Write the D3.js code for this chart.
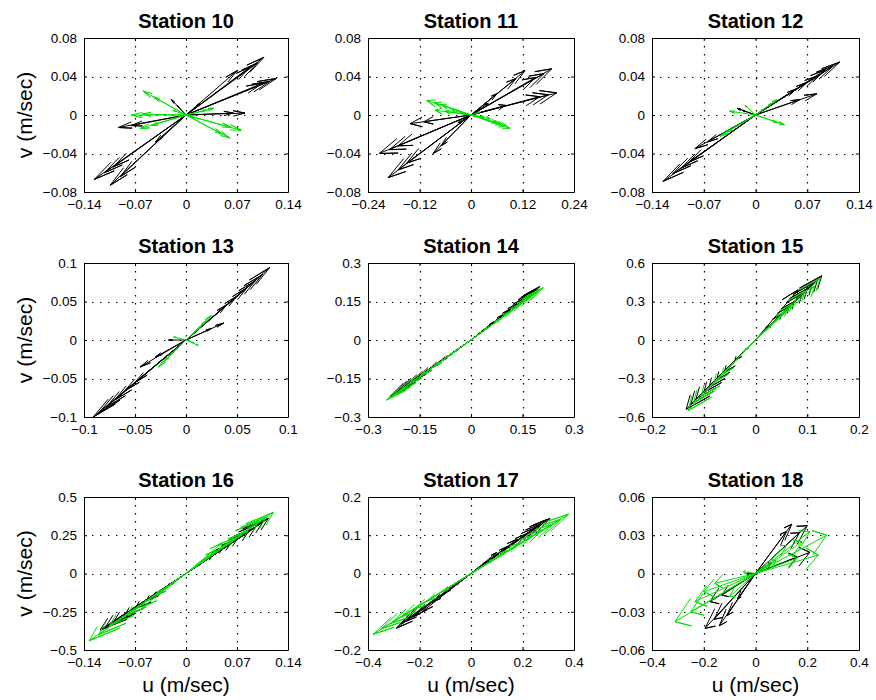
<!DOCTYPE html>
<html><head><meta charset="utf-8">
<script src="https://cdn.jsdelivr.net/npm/d3@7"></script>
<style>
body{margin:0;background:#fff}
svg{display:block}
text{font-family:"Liberation Sans",Arial,Helvetica,sans-serif}
</style>
</head><body>
<svg id="c" width="876" height="700"></svg>
<script>
// ---------- labels ----------
const stationNames = ["Station 10","Station 11","Station 12","Station 13","Station 14","Station 15","Station 16","Station 17","Station 18"];
const xLabel = "u (m/sec)";
const yLabel = "v (m/sec)";

// ---------- tick values (per station) ----------
const xTicks10 = [-0.14,-0.07,0,0.07,0.14], yTicks10 = [-0.08,-0.04,0,0.04,0.08];
const xTicks11 = [-0.24,-0.12,0,0.12,0.24], yTicks11 = [-0.08,-0.04,0,0.04,0.08];
const xTicks12 = [-0.14,-0.07,0,0.07,0.14], yTicks12 = [-0.08,-0.04,0,0.04,0.08];
const xTicks13 = [-0.1,-0.05,0,0.05,0.1],   yTicks13 = [-0.1,-0.05,0,0.05,0.1];
const xTicks14 = [-0.3,-0.15,0,0.15,0.3],   yTicks14 = [-0.3,-0.15,0,0.15,0.3];
const xTicks15 = [-0.2,-0.1,0,0.1,0.2],     yTicks15 = [-0.6,-0.3,0,0.3,0.6];
const xTicks16 = [-0.14,-0.07,0,0.07,0.14], yTicks16 = [-0.5,-0.25,0,0.25,0.5];
const xTicks17 = [-0.4,-0.2,0,0.2,0.4],     yTicks17 = [-0.2,-0.1,0,0.1,0.2];
const xTicks18 = [-0.4,-0.2,0,0.2,0.4],     yTicks18 = [-0.06,-0.03,0,0.03,0.06];

// ---------- current vectors [u, v] (m/sec) ----------
const st10Black = [[0.107,0.060],[0.098,0.054],[0.088,0.050],[0.124,0.038],[0.115,0.035],[0.105,0.033],
  [0.070,0.046],[0.019,0.012],[0.081,0.002],[0.065,0.002],[-0.093,-0.013],[-0.075,-0.011],
  [-0.126,-0.067],[-0.112,-0.060],[-0.100,-0.054],[-0.104,-0.073],[-0.090,-0.064],[-0.042,-0.028],
  [-0.020,0.016],[-0.012,0.010]];
const st10Green = [[-0.059,0.025],[-0.045,0.019],[-0.075,0.000],[-0.060,0.001],[-0.063,-0.014],[-0.048,-0.011],
  [0.060,-0.024],[0.050,-0.020],[0.076,-0.016],[0.062,-0.013],[0.038,0.007],[0.028,0.005],[-0.018,0.005],[0.012,-0.003]];

const st11Black = [[0.126,0.046],[0.105,0.038],[0.060,0.022],[0.188,0.048],[0.170,0.043],[0.150,0.039],
  [0.200,0.023],[0.180,0.021],[0.160,0.019],[0.080,0.010],[-0.142,-0.009],[-0.110,-0.007],
  [-0.214,-0.040],[-0.190,-0.036],[-0.170,-0.032],[-0.193,-0.065],[-0.170,-0.057],[-0.150,-0.050],
  [-0.088,-0.040],[-0.070,-0.032],[0.040,0.012],[-0.030,-0.008]];
const st11Green = [[-0.103,0.015],[-0.085,0.013],[-0.070,0.011],[-0.084,0.005],[-0.060,0.004],[-0.045,0.005],
  [0.091,-0.014],[0.080,-0.012],[0.070,-0.010],[0.060,-0.008],[0.045,-0.004],[0.030,-0.002],[0.020,0.003],[-0.025,0.002]];

const st12Black = [[0.114,0.055],[0.105,0.051],[0.095,0.047],[0.085,0.041],[0.070,0.034],[0.055,0.027],
  [0.083,0.022],[0.060,0.016],[-0.125,-0.069],[-0.112,-0.061],[-0.100,-0.055],[-0.090,-0.049],
  [-0.082,-0.035],[-0.065,-0.028],[-0.025,0.007],[-0.018,0.005]];
const st12Green = [[-0.035,0.004],[0.039,-0.010],[0.030,-0.008],[-0.014,0.010],[-0.048,-0.022],[-0.040,-0.018],
  [0.029,0.016],[0.022,0.012],[0.010,0.006]];

const st13Black = [[0.082,0.094],[0.075,0.085],[0.068,0.077],[0.060,0.068],[0.050,0.057],[0.040,0.046],
  [0.037,0.022],[0.025,0.015],[-0.091,-0.100],[-0.085,-0.094],[-0.078,-0.087],[-0.070,-0.078],
  [-0.060,-0.066],[-0.050,-0.055],[-0.045,-0.035],[-0.030,-0.022],[-0.017,0.000]];
const st13Green = [[0.025,0.032],[0.020,0.025],[0.015,0.018],[-0.027,-0.035],[-0.022,-0.028],[-0.016,-0.020],
  [-0.012,0.004],[0.012,-0.007],[0.008,-0.004]];

const st14Black = [[0.200,0.208],[0.190,0.198],[0.180,0.188],[0.160,0.167],[0.140,0.146],[0.120,0.125],
  [0.100,0.104],[0.070,0.073],[0.040,0.042],[-0.236,-0.220],[-0.225,-0.210],[-0.210,-0.196],
  [-0.190,-0.178],[-0.170,-0.159],[-0.150,-0.140],[-0.120,-0.112],[-0.090,-0.084],[-0.050,-0.047]];
const st14Green = [[0.210,0.204],[0.195,0.189],[0.175,0.170],[0.150,0.146],[0.120,0.116],[0.090,0.087],
  [0.050,0.049],[-0.246,-0.234],[-0.230,-0.219],[-0.210,-0.200],[-0.185,-0.176],[-0.150,-0.143],
  [-0.110,-0.105],[-0.070,-0.067]];

const st15Black = [[0.128,0.50],[0.120,0.47],[0.110,0.44],[0.100,0.40],[0.090,0.36],[0.082,0.39],
  [0.075,0.30],[0.065,0.26],[0.050,0.20],[0.030,0.12],[-0.134,-0.54],[-0.125,-0.50],[-0.115,-0.46],
  [-0.100,-0.41],[-0.090,-0.37],[-0.075,-0.31],[-0.060,-0.25],[-0.040,-0.16]];
const st15Green = [[0.125,0.48],[0.115,0.42],[0.095,0.38],[0.070,0.28],[0.060,0.23],[-0.130,-0.55],
  [-0.120,-0.49],[-0.105,-0.44],[-0.080,-0.33],[-0.065,-0.27],[-0.020,-0.08]];

const st16Black = [[0.113,0.36],[0.105,0.335],[0.095,0.30],[0.085,0.27],[0.070,0.225],[0.060,0.19],
  [0.050,0.165],[0.035,0.11],[0.020,0.065],[-0.118,-0.37],[-0.110,-0.345],[-0.100,-0.32],
  [-0.085,-0.28],[-0.070,-0.23],[-0.055,-0.18],[-0.045,-0.15],[-0.025,-0.08]];
const st16Green = [[0.120,0.40],[0.110,0.37],[0.100,0.345],[0.085,0.28],[0.065,0.23],[0.050,0.20],
  [0.040,0.15],[-0.133,-0.44],[-0.120,-0.40],[-0.105,-0.34],[-0.080,-0.27],[-0.060,-0.22],[-0.040,-0.14]];

const st17Black = [[0.307,0.144],[0.290,0.140],[0.270,0.130],[0.250,0.120],[0.220,0.105],[0.180,0.090],
  [0.140,0.070],[0.100,0.055],[0.060,0.030],[-0.290,-0.143],[-0.270,-0.130],[-0.250,-0.120],
  [-0.220,-0.110],[-0.190,-0.100],[-0.150,-0.075],[-0.100,-0.050],[-0.060,-0.030]];
const st17Green = [[0.380,0.155],[0.350,0.142],[0.320,0.130],[0.280,0.115],[0.240,0.100],[0.190,0.080],
  [0.140,0.060],[0.090,0.038],[-0.380,-0.159],[-0.350,-0.145],[-0.310,-0.130],[-0.270,-0.113],
  [-0.220,-0.093],[-0.170,-0.072],[-0.110,-0.047]];

const st18Black = [[0.140,0.0386],[0.120,0.033],[0.200,0.0375],[0.170,0.032],[0.210,0.0166],[0.160,0.013],
  [0.060,0.008],[-0.195,-0.043],[-0.160,-0.036],[-0.140,-0.041],[-0.110,-0.033],[-0.176,-0.022],
  [-0.130,-0.017],[-0.034,0.000],[-0.070,-0.020]];
const st18Green = [[0.275,0.030],[0.210,0.0328],[0.243,0.0145],[0.180,0.025],[0.120,0.022],[0.160,0.012],
  [-0.311,-0.0378],[-0.234,-0.022],[-0.200,-0.0143],[-0.157,-0.0077],[-0.250,-0.030],[-0.047,0.0014],
  [-0.100,-0.018],[0.080,0.010]];

// ---------- assemble ----------
const panels = [
  {xt:xTicks10,yt:yTicks10,black:st10Black,green:st10Green},
  {xt:xTicks11,yt:yTicks11,black:st11Black,green:st11Green},
  {xt:xTicks12,yt:yTicks12,black:st12Black,green:st12Green},
  {xt:xTicks13,yt:yTicks13,black:st13Black,green:st13Green},
  {xt:xTicks14,yt:yTicks14,black:st14Black,green:st14Green},
  {xt:xTicks15,yt:yTicks15,black:st15Black,green:st15Green},
  {xt:xTicks16,yt:yTicks16,black:st16Black,green:st16Green},
  {xt:xTicks17,yt:yTicks17,black:st17Black,green:st17Green},
  {xt:xTicks18,yt:yTicks18,black:st18Black,green:st18Green}
].map((p,i)=>Object.assign(p,{name:stationNames[i]}));

const colLeft=[84,368,652], colWidth=[204,206,207];
const rowTop=[38,263,497], rowHeight=[154,154,153];
const FONT='"Liberation Sans",Arial,Helvetica,sans-serif';
const fmt = d => d===0 ? "0" : (d<0?"\u2212":"") + String(+Math.abs(d).toFixed(4));

const svg = d3.select("#c");

// compass-style arrow in data coords: 0 -> z, head at 0.8z ± b·iz
const HEAD_B = 0.035;
function arrowPts(u,v){
  const b=HEAD_B;
  return [[0,0],[u,v],[0.8*u-b*v,b*u+0.8*v],[u,v],[0.8*u+b*v,-b*u+0.8*v]];
}

panels.forEach((p,i)=>{
  const col=i%3, row=Math.floor(i/3);
  const L=colLeft[col], T=rowTop[row], W=colWidth[col], H=rowHeight[row];
  const x=d3.scaleLinear().domain(d3.extent(p.xt)).range([L,L+W]);
  const y=d3.scaleLinear().domain(d3.extent(p.yt)).range([T+H,T]);
  const g=svg.append("g");

  // dotted grid
  const inner=a=>a.slice(1,-1);
  g.append("g").selectAll("line").data(inner(p.xt)).join("line")
    .attr("x1",d=>Math.round(x(d))+0.5).attr("x2",d=>Math.round(x(d))+0.5)
    .attr("y1",T).attr("y2",T+H)
    .attr("stroke","#000").attr("stroke-width",1.2).attr("stroke-dasharray","1.4,6.6");
  g.append("g").selectAll("line").data(inner(p.yt)).join("line")
    .attr("y1",d=>Math.round(y(d))+0.5).attr("y2",d=>Math.round(y(d))+0.5)
    .attr("x1",L).attr("x2",L+W)
    .attr("stroke","#000").attr("stroke-width",1.2).attr("stroke-dasharray","1.4,6.6");

  // arrows
  const line=d3.line().x(d=>x(d[0])).y(d=>y(d[1]));
  const drawSet=(data,color)=>{
    g.append("g").selectAll("path").data(data).join("path")
      .attr("d",d=>line(arrowPts(d[0],d[1])))
      .attr("fill","none").attr("stroke",color).attr("stroke-width",1)
      .attr("stroke-linejoin","miter");
  };
  drawSet(p.black,"#000");
  drawSet(p.green,"#00e000");

  // axes (inward ticks)
  const styleAx=s=>{s.attr("font-size",13.5).attr("font-family",FONT);
    s.selectAll("path,line").attr("stroke","#000");
    s.selectAll("text").attr("fill","#000");};
  g.append("g").attr("transform",`translate(0,${T+H})`)
    .call(d3.axisBottom(x).tickValues(p.xt).tickFormat(fmt).tickSizeInner(-3).tickSizeOuter(0).tickPadding(7)).call(styleAx);
  g.append("g").attr("transform",`translate(${L},0)`)
    .call(d3.axisLeft(y).tickValues(p.yt).tickFormat(fmt).tickSizeInner(-3).tickSizeOuter(0).tickPadding(7)).call(styleAx);
  g.append("g").attr("transform",`translate(0,${T})`)
    .call(d3.axisTop(x).tickValues(p.xt).tickFormat(()=>"").tickSizeInner(-3).tickSizeOuter(0)).call(styleAx);
  g.append("g").attr("transform",`translate(${L+W},0)`)
    .call(d3.axisRight(y).tickValues(p.yt).tickFormat(()=>"").tickSizeInner(-3).tickSizeOuter(0)).call(styleAx);

  // title
  g.append("text").attr("x",L+W/2).attr("y",T-10.5).attr("text-anchor","middle")
    .attr("font-size",20).attr("font-weight","bold").attr("fill","#000").text(p.name);

  if(col===0){
    g.append("text").attr("transform",`translate(32,${T+H/2}) rotate(-90)`)
      .attr("text-anchor","middle").attr("font-size",21).attr("fill","#000").text(yLabel);
  }
  if(row===2){
    g.append("text").attr("x",L+W/2).attr("y",T+H+42).attr("text-anchor","middle")
      .attr("font-size",21).attr("fill","#000").text(xLabel);
  }
});
</script>
</body></html>
